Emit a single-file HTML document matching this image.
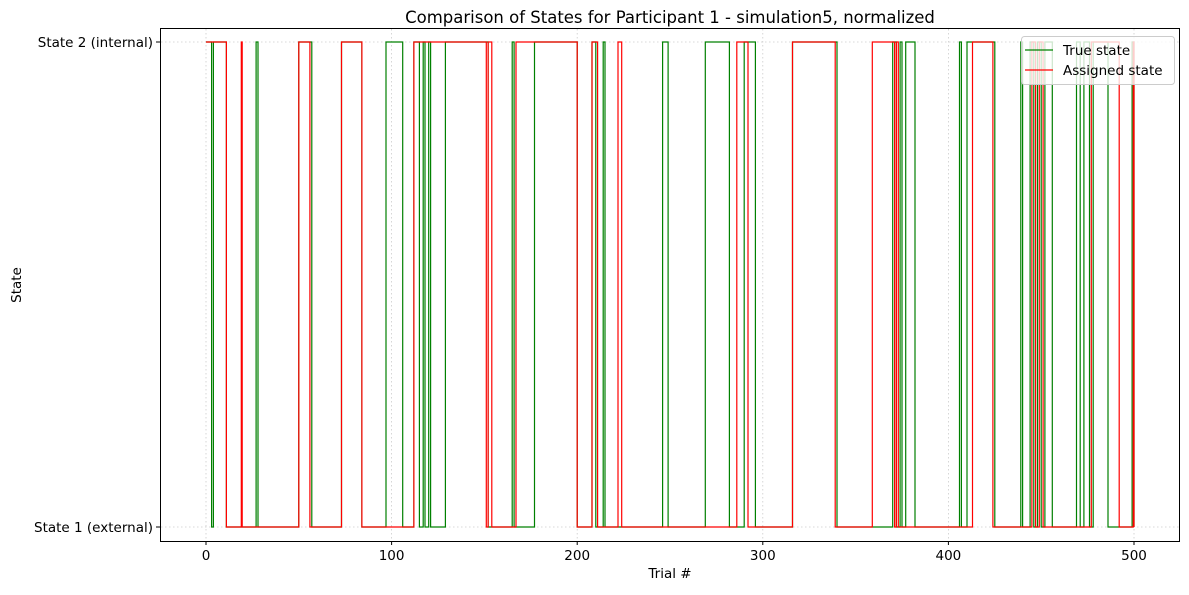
<!DOCTYPE html>
<html><head><meta charset="utf-8"><style>
body{margin:0;background:#fff;font-family:"Liberation Sans","DejaVu Sans",sans-serif}
svg text{font-family:"DejaVu Sans","Liberation Sans",sans-serif;fill:#000}
</style></head><body>
<svg id="chart" width="1189" height="590" xmlns="http://www.w3.org/2000/svg">
<rect width="1189" height="590" fill="#fff"/>
<text x="670" y="23" font-size="16.5" text-anchor="middle">Comparison of States for Participant 1 - simulation5, normalized</text>
<g id="grid"></g>
<g id="series"></g>
<rect x="160.5" y="28.5" width="1019" height="513" fill="none" stroke="#000" stroke-width="1"/>
<g id="ticks"></g>
<text x="670" y="578" font-size="13.5" text-anchor="middle">Trial #</text>
<text x="21" y="285" font-size="13.5" text-anchor="middle" transform="rotate(-90 21 285)">State</text>
<g>
<rect x="1021.5" y="36.5" width="153" height="48" rx="3" fill="#fff" fill-opacity="0.8" stroke="#ccc"/>
<line x1="1025" y1="50" x2="1053" y2="50" stroke="green" stroke-width="1.2"/>
<text x="1063" y="55" font-size="13.5">True state</text>
<line x1="1025" y1="70" x2="1053" y2="70" stroke="red" stroke-width="1.2"/>
<text x="1063" y="75" font-size="13.5">Assigned state</text>
</g>
</svg>
<script>
const xTicks=[0,100,200,300,400,500];
const yTickLabels=["State 1 (external)","State 2 (internal)"];
const trueStarts=[0,4,27,50,73,97,112,117,120,129,165,177,208,214,246,269,290,316,370,374,377,406,410,439,444,448,452,469,473,478,499];
const trueEnds=[3,11,28,57,84,106,115,118,121,152,166,200,210,215,249,282,296,340,372,375,382,407,425,440,446,450,456,471,476,486,500];
const assignedStarts=[0,19,50,73,112,152,167,208,222,286,316,359,372,413,445,449,477,499.6];
const assignedEnds=[11,19.5,56,84,151,154,200,211,224,292,339,371,373,424,447,451,492,500];
const X=t=>206+t*(1134-206)/500;
const Y=s=>527-s*(527-42);
const NS="http://www.w3.org/2000/svg";
const grid=document.getElementById('grid'),ticks=document.getElementById('ticks'),ser=document.getElementById('series');
function mk(tag,attrs,parent){const e=document.createElementNS(NS,tag);for(const k in attrs)e.setAttribute(k,attrs[k]);parent.appendChild(e);return e;}
xTicks.forEach(v=>{
 const g=mk('line',{x1:X(v),x2:X(v),y1:29,y2:541,stroke:'#ccc','stroke-dasharray':'1.5,2.5','stroke-width':0.8},grid);
 
 
 mk('line',{x1:X(v),x2:X(v),y1:541,y2:545,stroke:'#000'},ticks);
 const t=mk('text',{x:X(v),y:560,'font-size':13.5,'text-anchor':'middle'},ticks);t.textContent=v;
 
 
});
yTickLabels.forEach((l,i)=>{
 const g=mk('line',{x1:161,x2:1179,y1:Y(i),y2:Y(i),stroke:'#ccc','stroke-dasharray':'1.5,2.5','stroke-width':0.8},grid);
 
 
 mk('line',{x1:156,x2:160,y1:Y(i),y2:Y(i),stroke:'#000'},ticks);
 const t=mk('text',{x:153,y:Y(i)+5,'font-size':13.5,'text-anchor':'end'},ticks);t.textContent=l;
 
 
});
function stepPath(starts,ends){
 let d='';
 const pts=[];
 if(starts[0]>0)pts.push([0,0]);
 starts.forEach((s,i)=>{pts.push([s,0]);pts.push([s,1]);pts.push([ends[i],1]);pts.push([ends[i],0]);});
 if(starts[0]===0)pts.shift();
 pts.forEach((p,i)=>{d+=(i?'L':'M')+X(p[0]).toFixed(1)+','+Y(p[1]).toFixed(1);});
 const last=pts[pts.length-1];if(last[0]<500)d+='L'+X(500)+','+Y(0);
 return d;
}
const p1=mk('path',{d:stepPath(trueStarts,trueEnds),fill:'none',stroke:'green','stroke-width':1.2},ser);


const p2=mk('path',{d:stepPath(assignedStarts,assignedEnds),fill:'none',stroke:'red','stroke-width':1.2},ser);


</script>
</body></html>
